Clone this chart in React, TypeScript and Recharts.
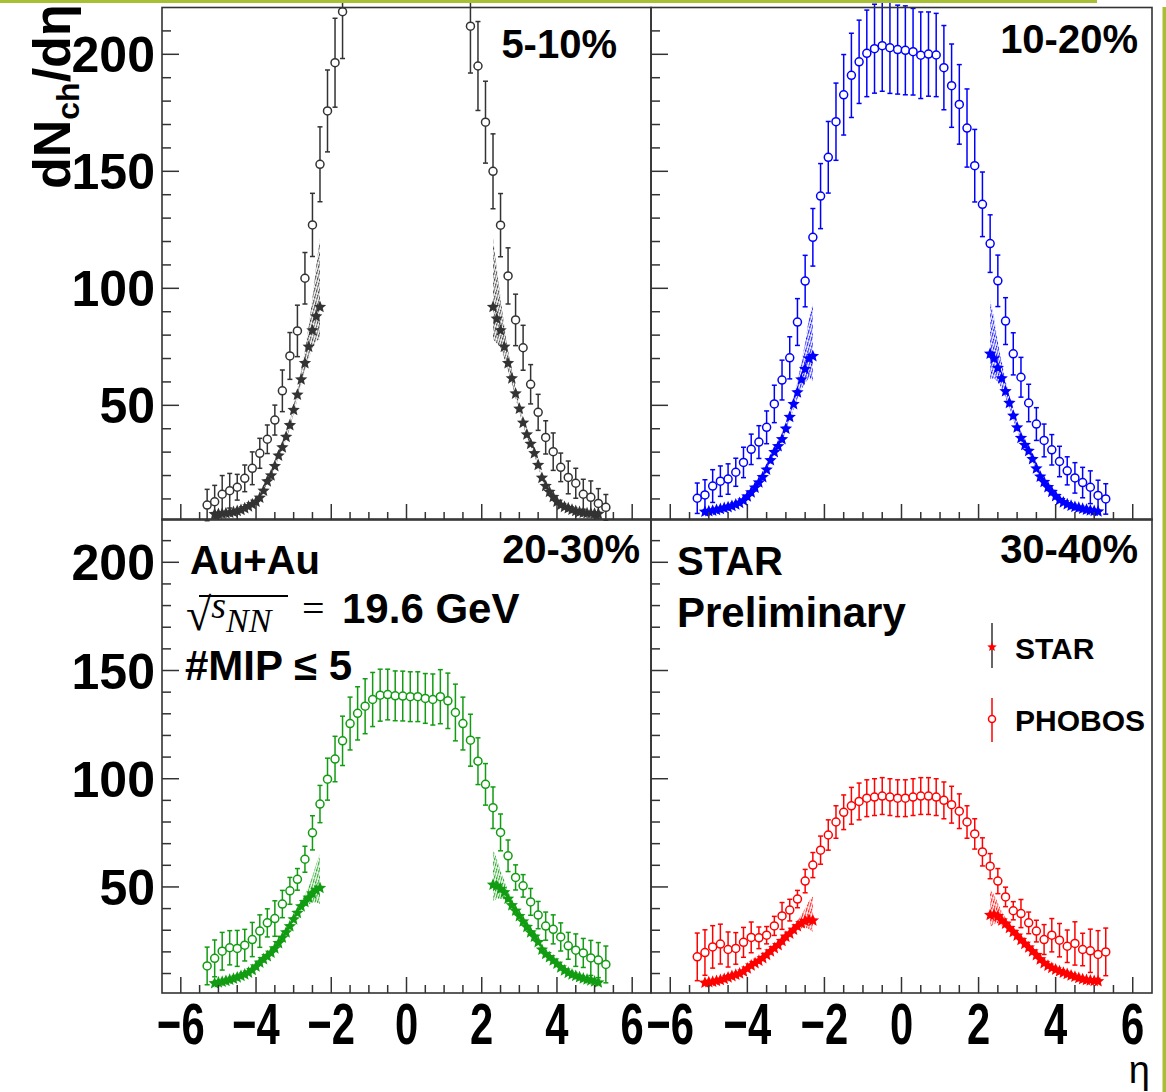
import React from 'react';
import { ComposedChart, Scatter, ErrorBar, Area, XAxis, YAxis } from 'recharts';

const FONT = "'Liberation Sans', Arial, Helvetica, sans-serif";
const SERIF = "'Liberation Serif', 'DejaVu Serif', serif";
const AXIS = '#333333';

// PHOBOS bins (eta centres)
const PHOBOS_ETA = [-5.3, -5.1, -4.9, -4.7, -4.5, -4.3, -4.1, -3.9, -3.7, -3.5, -3.3, -3.1, -2.9, -2.7, -2.5, -2.3, -2.1, -1.9, -1.7, -1.5, -1.3, -1.1, -0.9, -0.7, -0.5, -0.3, -0.1, 0.1, 0.3, 0.5, 0.7, 0.9, 1.1, 1.3, 1.5, 1.7, 1.9, 2.1, 2.3, 2.5, 2.7, 2.9, 3.1, 3.3, 3.5, 3.7, 3.9, 4.1, 4.3, 4.5, 4.7, 4.9, 5.1, 5.3];
// STAR (EPD) points
const STAR_ETA_LEFT = [-5.1, -5.0, -4.9, -4.8, -4.7, -4.6, -4.5, -4.4, -4.3, -4.2, -4.1, -4.0, -3.9, -3.8, -3.7, -3.6, -3.5, -3.4, -3.3, -3.2, -3.1, -3.0, -2.9, -2.8, -2.7, -2.6, -2.5, -2.4, -2.3];
const STAR_ETA_RIGHT = [2.3, 2.4, 2.5, 2.6, 2.7, 2.8, 2.9, 3.0, 3.1, 3.2, 3.3, 3.4, 3.5, 3.6, 3.7, 3.8, 3.9, 4.0, 4.1, 4.2, 4.3, 4.4, 4.5, 4.6, 4.7, 4.8, 4.9, 5.0, 5.1];
// STAR systematic band, relative, indexed by |eta| from 2.3 to 5.1
const SYS_UP = [0.32, 0.25, 0.17, 0.12, 0.08, 0.06, 0.05, 0.045, 0.04, 0.04, 0.04, 0.04, 0.04, 0.04, 0.04, 0.04, 0.04, 0.04, 0.04, 0.04, 0.04, 0.04, 0.04, 0.04, 0.04, 0.04, 0.04, 0.04, 0.04];
const SYS_DOWN = [0.15, 0.12, 0.09, 0.07, 0.05, 0.04, 0.035, 0.03, 0.03, 0.03, 0.03, 0.03, 0.03, 0.03, 0.03, 0.03, 0.03, 0.03, 0.03, 0.03, 0.03, 0.03, 0.03, 0.03, 0.03, 0.03, 0.03, 0.03, 0.03];

// 5-10%
const PHOBOS_5_10 = [7.4, 8.8, 12.0, 13.5, 15.0, 18.8, 23.1, 29.5, 35.5, 43.7, 56.2, 71.1, 81.8, 104.3, 127.1, 153, 175.8, 196.4, 218.2, null, null, null, null, null, null, null, null, null, null, null, null, null, null, null, null, 212, 195, 171, 150, 127, 105.3, 86.5, 74.6, 59, 47, 36.3, 30.2, 23.5, 19.2, 16.7, 12.0, 10.7, 8.1, 6.4];
const PHOBOS_5_10_ERR = [6.7, 7, 8, 7.4, 5.5, 5.7, 7, 6.4, 6.1, 6.4, 8.9, 10, 11, 11, 13.5, 16, 17.5, 19, 20, 20, 20, 20, 20, 20, 20, 20, 20, 20, 20, 20, 20, 20, 20, 20, 20, 20, 19, 17.5, 16, 13.5, 12, 11, 9.6, 8.4, 7.7, 7.1, 8, 6.1, 7, 6.4, 6.4, 7, 6.3, 5.5];
const STAR_5_10_L = [3.5, 3.6, 3.7, 3.9, 4.1, 4.4, 4.8, 5.3, 6.0, 6.8, 7.7, 8.8, 10.5, 13.5, 17.5, 20, 24, 28.5, 32, 36.5, 41.5, 48, 54.5, 61, 68, 75, 82, 88, 92];
const STAR_5_10_R = [92, 87, 82, 75, 68, 61.5, 55, 48.5, 42.5, 37.5, 33.5, 29.5, 24.5, 19, 15.5, 13, 10.8, 8.8, 7.4, 6.6, 6.0, 5.4, 4.8, 4.4, 4.1, 3.9, 3.8, 3.7, 3.6];

// 10-20%
const PHOBOS_10_20 = [10.3, 11.7, 15.5, 17.6, 18.5, 21.4, 25.6, 31.2, 34.3, 40.6, 50.6, 60.8, 70.3, 85.6, 103.1, 121.8, 139.4, 156, 171.2, 182.7, 191, 196.8, 200.4, 202.4, 203.7, 202.8, 202, 201.7, 201.1, 199.6, 200.1, 199.7, 194.3, 186.6, 178.6, 168.5, 152.4, 135.9, 119.1, 103.2, 86, 72, 62, 51, 42, 35, 31, 26, 22, 19, 17, 15, 11.5, 10];
const PHOBOS_10_20_ERR = [6.5, 6.5, 7, 6.5, 6.5, 6, 6.5, 6.5, 7, 7, 8, 8.5, 9, 10, 11, 12.3, 13.9, 15.3, 16.5, 17.2, 18, 17.8, 18.5, 19, 19.5, 19.5, 19, 19, 18.5, 18.5, 18, 17.8, 18, 17.8, 17, 16.7, 15.5, 13.8, 12.3, 11, 10, 9, 8.5, 8, 7, 7, 6.5, 6.5, 6, 6.5, 6.5, 7, 6.5, 6.5];
const STAR_10_20_L = [4.5, 4.7, 5.0, 5.3, 5.7, 6.1, 6.5, 7.0, 7.6, 8.3, 9.3, 11, 12.8, 14.8, 17, 19.3, 22.5, 26.5, 30, 32.5, 35.5, 40, 45, 50.5, 55.5, 61, 65.5, 70, 71];
const STAR_10_20_R = [72, 70, 66, 61.5, 56, 51, 45.5, 40.5, 36, 33, 30.5, 27, 23, 19.5, 17.2, 15, 13, 11.2, 9.5, 8.5, 7.7, 7.1, 6.6, 6.2, 5.8, 5.4, 5.1, 4.8, 4.6];

// 20-30%
const PHOBOS_20_30 = [13.5, 17, 20.3, 21.9, 21.6, 23.1, 25.7, 29.6, 33.4, 35.4, 42.1, 48.2, 53.5, 62.8, 75, 88.3, 99.8, 109.1, 117.5, 125.5, 130.2, 133.5, 136.6, 138.6, 138.9, 138.3, 138.2, 137.9, 137.9, 137.1, 136.6, 137.9, 136, 130.6, 125.5, 117.8, 108.1, 97.4, 86.6, 75.2, 64.4, 54.4, 50.5, 43.1, 37, 31.9, 30.4, 26.9, 22.8, 20.8, 19.5, 17.2, 16.2, 14.2];
const PHOBOS_20_30_ERR = [8.7, 8.5, 8.7, 7.9, 8.3, 7.3, 7.9, 7.5, 6.5, 8.2, 6.3, 6.2, 5, 6, 7.9, 8.6, 9.7, 10.5, 11.4, 12.2, 12.3, 12.7, 12.5, 12, 11.7, 11.5, 11.5, 11.5, 11.5, 11.5, 11.8, 12.5, 12.8, 13.1, 12.2, 12, 10.8, 9.6, 9.6, 8.5, 7.3, 5.8, 5.2, 6.2, 6.3, 6.5, 6.7, 6.5, 6.2, 7.5, 6.7, 8.1, 8.1, 8.5];
const STAR_20_30_L = [5.5, 5.9, 6.2, 6.6, 7.1, 7.6, 8.2, 8.9, 9.6, 10.4, 11.6, 13.2, 15, 16.6, 18, 19.6, 21.6, 24, 26.5, 29, 31.8, 35, 38, 41, 43, 45, 47, 48.5, 49.5];
const STAR_20_30_R = [51, 50.5, 49, 47.5, 44.5, 41.5, 39, 36.5, 34, 31.5, 29, 27, 24.5, 21, 19, 17.5, 16, 14.5, 12.8, 11.4, 10.3, 9.5, 8.9, 8.3, 7.7, 7.2, 6.8, 6.3, 5.8];

// 30-40%
const PHOBOS_30_40 = [17.7, 19.7, 22.3, 23.6, 21.1, 21.6, 24.4, 26.7, 26.5, 27.7, 32, 36.6, 39.3, 44.4, 52.7, 60.1, 67, 74, 80, 84.5, 87.5, 89.5, 91, 91.5, 92, 91.5, 91, 91, 91.5, 92, 92, 91.5, 90, 88, 85, 80, 74.5, 66.2, 59.6, 52.7, 45.4, 39, 37.7, 33.4, 29.6, 25.7, 27.7, 25.4, 22.6, 23.9, 21.1, 20.5, 18.8, 20];
const PHOBOS_30_40_ERR = [11, 10.5, 9.8, 9.2, 8.1, 7.3, 6.9, 7.1, 5, 4, 4.4, 6.2, 5, 4, 5.4, 5.8, 6.5, 7, 7.5, 8, 8.5, 8.5, 8.5, 8.5, 8.5, 8.5, 8.5, 8.5, 8.5, 8.5, 8.5, 8.5, 8.5, 8.5, 8, 7.5, 7, 6.5, 5.8, 5.8, 4.5, 4.2, 6.5, 5, 5, 6.9, 7.7, 7.7, 7.5, 10, 7.5, 10, 11, 11];
const STAR_30_40_L = [5.7, 6.0, 6.2, 6.6, 7.0, 7.5, 8.2, 8.8, 9.4, 10, 10.9, 12.3, 13.7, 14.8, 15.9, 17.1, 18.6, 20.2, 21.7, 23.1, 25, 27, 28.4, 30.2, 31.8, 33.2, 34.2, 34.8, 34.5];
const STAR_30_40_R = [37, 37.2, 36.5, 34.5, 33, 31, 29.2, 27.5, 25.5, 23.7, 22, 20.2, 18.5, 16.5, 14.8, 13.6, 12.6, 11.8, 11, 10.4, 9.8, 9.1, 8.5, 7.9, 7.4, 7.0, 6.8, 6.6, 6.4];

const Y_TICKS = [10, 20, 30, 40, 50, 60, 70, 80, 90, 100, 110, 120, 130, 140, 150, 160, 170, 180, 190, 200, 210];
const Y_MAJOR = [50, 100, 150, 200];
const X_TICKS = [-6, -5.5, -5, -4.5, -4, -3.5, -3, -2.5, -2, -1.5, -1, -0.5, 0, 0.5, 1, 1.5, 2, 2.5, 3, 3.5, 4, 4.5, 5, 5.5, 6];
const X_MAJOR = [-6, -4, -2, 0, 2, 4, 6];

function phobosPoints(vals: (number | null)[], errs: number[]) {
  const out: { x: number; y: number; e: number }[] = [];
  PHOBOS_ETA.forEach((x, i) => {
    const y = vals[i];
    if (y != null) out.push({ x, y, e: errs[i] });
  });
  return out;
}

function starPoints(etas: number[], vals: number[]) {
  return etas.map((x, i) => ({ x, y: vals[i] }));
}

function sysBand(etas: number[], vals: number[]) {
  return etas.map((x, i) => {
    const k = Math.round((Math.abs(x) - 2.3) * 10);
    return { x, range: [vals[i] * (1 - SYS_DOWN[k]), vals[i] * (1 + SYS_UP[k])] };
  });
}

function StarMarker({ cx, cy, fill, r = 6.5 }: { cx: number; cy: number; fill: string; r?: number }) {
  const pts: string[] = [];
  for (let i = 0; i < 10; i++) {
    const a = -Math.PI / 2 + (i * Math.PI) / 5;
    const rad = i % 2 === 0 ? r : r * 0.45;
    pts.push(`${cx + rad * Math.cos(a)},${cy + rad * Math.sin(a)}`);
  }
  return <polygon points={pts.join(' ')} fill={fill} />;
}

function YTick(props: any) {
  const { x, y, payload, showLabel } = props;
  const major = Y_MAJOR.includes(payload.value);
  return (
    <g>
      <line x1={x} y1={y} x2={x + (major ? 17 : 9)} y2={y} stroke={AXIS} strokeWidth={1.5} />
      {showLabel && major && (
        <text x={x - 7} y={y + 18} textAnchor="end" fontFamily={FONT} fontWeight="bold" fontSize={50} fill="#000">
          {payload.value}
        </text>
      )}
    </g>
  );
}

function XTick(props: any) {
  const { x, y, payload, showLabel } = props;
  const v = payload.value as number;
  const major = X_MAJOR.includes(v);
  return (
    <g>
      <line x1={x} y1={y} x2={x} y2={y - (major ? 16 : 8)} stroke={AXIS} strokeWidth={1.5} />
      {showLabel && major && (
        <text transform={`translate(${x},${y + 51}) scale(0.72,1)`} textAnchor="middle" fontFamily={FONT} fontWeight="bold" fontSize={58} fill="#000">
          {v < 0 ? `\u2212${-v}` : `${v}`}
        </text>
      )}
    </g>
  );
}

type PanelProps = {
  id: string;
  color: string;
  phobos: (number | null)[];
  err: number[];
  starL: number[];
  starR: number[];
  left: number;
  top: number;
  width: number;
  height: number;
  yAxisWidth: number;
  marginTop: number;
  xAxisHeight: number;
  yLabels: boolean;
  xLabels: boolean;
};

function Panel(p: PanelProps) {
  const ph = phobosPoints(p.phobos, p.err);
  const stL = starPoints(STAR_ETA_LEFT, p.starL);
  const stR = starPoints(STAR_ETA_RIGHT, p.starR);
  const bandL = sysBand(STAR_ETA_LEFT, p.starL);
  const bandR = sysBand(STAR_ETA_RIGHT, p.starR);
  const hatch = `url(#hatch-${p.id})`;
  return (
    <div style={{ position: 'absolute', left: p.left, top: p.top }}>
      <ComposedChart width={p.width} height={p.height} margin={{ top: p.marginTop, right: 0, bottom: 0, left: 0 }}>
        <defs>
          <pattern id={`hatch-${p.id}`} patternUnits="userSpaceOnUse" width={2.4} height={6} patternTransform="rotate(16)">
            <line x1={0.6} y1={0} x2={0.6} y2={6} stroke={p.color} strokeWidth={1.1} strokeDasharray="2.4 1" />
          </pattern>
        </defs>
        <XAxis
          type="number"
          dataKey="x"
          domain={[-6.5, 6.5]}
          allowDataOverflow
          ticks={X_TICKS}
          interval={0}
          tickSize={0}
          tickMargin={0}
          axisLine={false}
          tickLine={false}
          height={p.xAxisHeight}
          tick={(t: any) => <XTick {...t} showLabel={p.xLabels} />}
        />
        <YAxis
          type="number"
          dataKey="y"
          domain={[1, 220]}
          allowDataOverflow
          ticks={Y_TICKS}
          interval={0}
          tickSize={0}
          tickMargin={0}
          axisLine={false}
          tickLine={false}
          width={p.yAxisWidth}
          tick={(t: any) => <YTick {...t} showLabel={p.yLabels} />}
        />
        <Area data={bandL} dataKey="range" type="linear" stroke="none" fill={hatch} fillOpacity={1} isAnimationActive={false} />
        <Area data={bandR} dataKey="range" type="linear" stroke="none" fill={hatch} fillOpacity={1} isAnimationActive={false} />
        <Scatter data={stL} isAnimationActive={false} shape={(s: any) => <StarMarker cx={s.cx} cy={s.cy} fill={p.color} />} />
        <Scatter data={stR} isAnimationActive={false} shape={(s: any) => <StarMarker cx={s.cx} cy={s.cy} fill={p.color} />} />
        <Scatter
          data={ph}
          isAnimationActive={false}
          shape={(s: any) => <circle cx={s.cx} cy={s.cy} r={4} fill="#fff" stroke={p.color} strokeWidth={1.5} />}
        >
          <ErrorBar dataKey="e" direction="y" width={2.5} stroke={p.color} strokeWidth={1.5} isAnimationActive={false} />
        </Scatter>
      </ComposedChart>
    </div>
  );
}

const TXT = { fontFamily: FONT, fontWeight: 'bold' as const, fill: '#000' };

export default function App() {
  return (
    <div style={{ position: 'absolute', left: 0, top: 0, width: 1166, height: 1092, background: '#fff', overflow: 'hidden' }}>
      <Panel id="a" color="#333333" phobos={PHOBOS_5_10} err={PHOBOS_5_10_ERR} starL={STAR_5_10_L} starR={STAR_5_10_R}
        left={0} top={0} width={651} height={522} yAxisWidth={162} marginTop={7.5} xAxisHeight={2} yLabels xLabels={false} />
      <Panel id="b" color="#0000ff" phobos={PHOBOS_10_20} err={PHOBOS_10_20_ERR} starL={STAR_10_20_L} starR={STAR_10_20_R}
        left={631} top={0} width={521} height={522} yAxisWidth={20} marginTop={7.5} xAxisHeight={2} yLabels={false} xLabels={false} />
      <Panel id="c" color="#119c11" phobos={PHOBOS_20_30} err={PHOBOS_20_30_ERR} starL={STAR_20_30_L} starR={STAR_20_30_R}
        left={0} top={510} width={651} height={558} yAxisWidth={162} marginTop={9} xAxisHeight={75} yLabels xLabels />
      <Panel id="d" color="#ff0000" phobos={PHOBOS_30_40} err={PHOBOS_30_40_ERR} starL={STAR_30_40_L} starR={STAR_30_40_R}
        left={631} top={510} width={521} height={558} yAxisWidth={20} marginTop={9} xAxisHeight={75} yLabels={false} xLabels />

      <svg width={1166} height={1092} style={{ position: 'absolute', left: 0, top: 0, pointerEvents: 'none' }}>
        {/* slide decoration */}
        <rect x={0} y={0} width={1097} height={3} fill="#a6bf35" />
        <rect x={1162.5} y={7} width={3.5} height={1085} fill="#a6bf35" />

        {/* frames */}
        <rect x={162} y={7.5} width={489} height={512.5} fill="none" stroke={AXIS} strokeWidth={1.6} />
        <rect x={651} y={7.5} width={501} height={512.5} fill="none" stroke={AXIS} strokeWidth={1.6} />
        <rect x={162} y={519} width={489} height={474} fill="none" stroke={AXIS} strokeWidth={1.6} />
        <rect x={651} y={519} width={501} height={474} fill="none" stroke={AXIS} strokeWidth={1.6} />

        {/* axis titles */}
        <text transform="translate(70,189) rotate(-90)" {...TXT} fontSize={52}>
          dN<tspan fontSize={32} dy={9}>ch</tspan>
          <tspan dy={-9}>/dη</tspan>
        </text>
        <text x={1150} y={1083} textAnchor="end" fontFamily={FONT} fontSize={38} fill="#000">η</text>

        {/* centrality labels */}
        <text x={617} y={58} textAnchor="end" {...TXT} fontSize={40}>5-10%</text>
        <text x={1138} y={53} textAnchor="end" {...TXT} fontSize={40}>10-20%</text>
        <text x={640} y={563} textAnchor="end" {...TXT} fontSize={40}>20-30%</text>
        <text x={1138} y={563} textAnchor="end" {...TXT} fontSize={40}>30-40%</text>

        {/* system annotation */}
        <text x={190} y={574} {...TXT} fontSize={40}>Au+Au</text>
        <line x1={199} y1={596} x2={288} y2={596} stroke="#000" strokeWidth={2} />
        <text x={186} y={630} fontFamily={SERIF} fontSize={46} fill="#000">
          √<tspan dy={-12} fontStyle="italic" fontSize={38}>s</tspan>
          <tspan dy={14} fontStyle="italic" fontSize={34}>NN</tspan>
        </text>
        <text x={302} y={622} fontFamily={SERIF} fontSize={40} fill="#000">=</text>
        <text x={342} y={623} {...TXT} fontSize={42}>19.6 GeV</text>
        <text x={185} y={680} {...TXT} fontSize={42}>#MIP ≤ 5</text>

        <text x={677} y={575} {...TXT} fontSize={40}>STAR</text>
        <text x={677} y={627} {...TXT} fontSize={42}>Preliminary</text>

        {/* legend */}
        <line x1={992} y1={623} x2={992} y2={668} stroke="#333" strokeWidth={1.5} />
        <StarMarker cx={992} cy={647} fill="#ff0000" r={5} />
        <text x={1015} y={659} {...TXT} fontSize={30}>STAR</text>
        <line x1={992} y1={698} x2={992} y2={742} stroke="#ff0000" strokeWidth={1.5} />
        <circle cx={992} cy={719} r={3.5} fill="#fff" stroke="#ff0000" strokeWidth={1.5} />
        <text x={1015} y={731} {...TXT} fontSize={30}>PHOBOS</text>
      </svg>
    </div>
  );
}
